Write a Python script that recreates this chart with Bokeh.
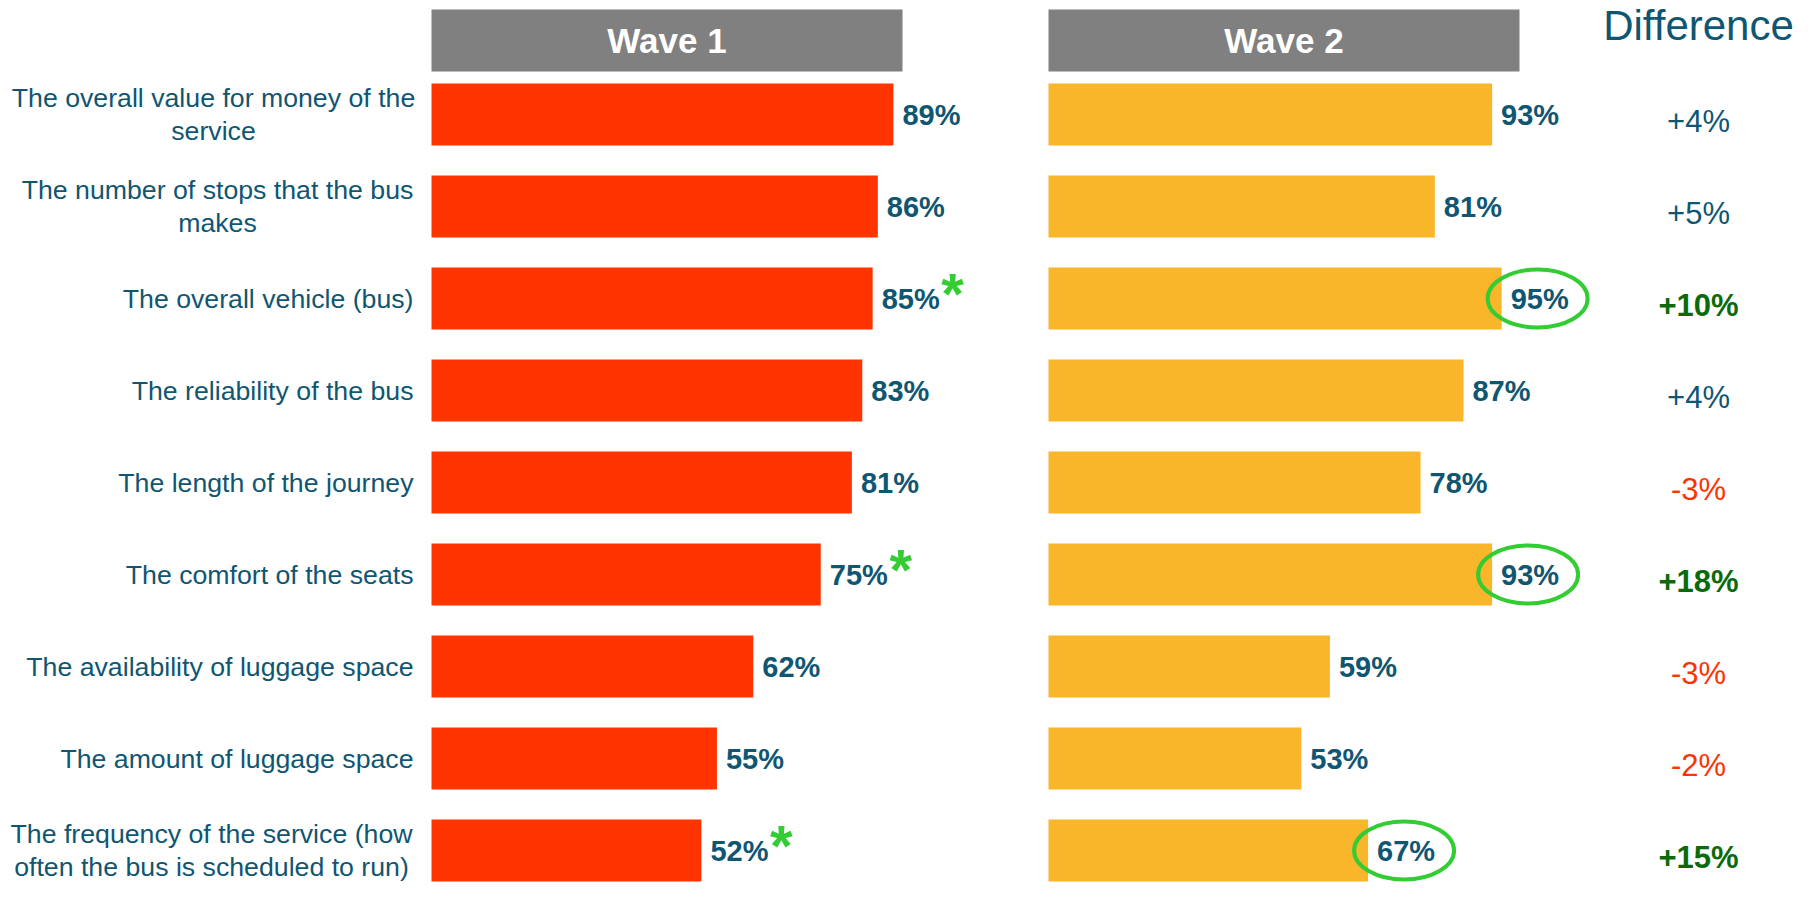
from bokeh.plotting import figure
from bokeh.models import Range1d, ColumnDataSource
from bokeh.core.properties import value
from bokeh.embed import file_html
from bokeh.resources import INLINE

# ---------------- data ----------------
categories = [
    "The overall value for money of the\nservice",
    "The number of stops that the bus\nmakes",
    "The overall vehicle (bus)",
    "The reliability of the bus",
    "The length of the journey",
    "The comfort of the seats",
    "The availability of luggage space",
    "The amount of luggage space",
    "The frequency of the service (how\noften the bus is scheduled to run)",
]
wave1 = [89, 86, 85, 83, 81, 75, 62, 55, 52]
wave2 = [93, 81, 95, 87, 78, 93, 59, 53, 67]
difference = [4, 5, 10, 4, -3, 18, -3, -2, 15]
significant = [False, False, True, False, False, True, False, False, True]
series_names = ["Wave 1", "Wave 2"]
diff_title = "Difference"

# ---------------- layout / style ----------------
W, H = 1800, 883
ROW0_PX, ROW_STEP, BAR_PX = 114, 92, 62
W1_ORIGIN, W1_PX = 431, 5.19
W2_ORIGIN, W2_PX = 1048, 4.77
HEADER_W, HEADER_Y, HEADER_H = 471, 40, 62
LABEL_RIGHT = 413
WRAP_CENTER = {0: 213, 1: 217, 8: 211}
DIFF_X, DIFF_TITLE_Y = 1698, 25
FONT = value("Liberation Sans")
TEAL = "#0f5672"
RED = "#ff3300"
YELLOW = "#f9b62b"
GREY = "#808080"
GREEN = "#33cc33"
DKGREEN = "#0b6a0b"


def rowunit(px):
    return (px - ROW0_PX) / ROW_STEP


p = figure(
    width=W, height=H,
    x_range=Range1d(0, W),
    y_range=Range1d(rowunit(H), rowunit(0)),
    output_backend="svg", toolbar_location=None,
    x_axis_location=None, y_axis_location=None,
    min_border=0, outline_line_color=None,
    background_fill_color="white", border_fill_color="white",
)
p.grid.grid_line_color = None
p.extra_x_ranges = {
    "w1": Range1d(-W1_ORIGIN / W1_PX, (W - W1_ORIGIN) / W1_PX),
    "w2": Range1d(-W2_ORIGIN / W2_PX, (W - W2_ORIGIN) / W2_PX),
}

rows = list(range(len(categories)))
src = ColumnDataSource(dict(
    row=rows, w1=wave1, w2=wave2,
    l1=[f"{v}%" for v in wave1], l2=[f"{v}%" for v in wave2],
))
bar_h = BAR_PX / ROW_STEP

# headers
hx = [W1_ORIGIN, W2_ORIGIN]
p.quad(left=hx, right=[x + HEADER_W for x in hx],
       top=[rowunit(HEADER_Y - HEADER_H / 2)] * 2,
       bottom=[rowunit(HEADER_Y + HEADER_H / 2)] * 2,
       fill_color=GREY, line_color=None)
p.text(x=[x + HEADER_W / 2 for x in hx], y=[rowunit(HEADER_Y)] * 2, text=series_names,
       text_align="center", text_baseline="middle", text_font=FONT,
       text_font_style="bold", text_font_size="35px", text_color="white")
p.text(x=[DIFF_X], y=[rowunit(DIFF_TITLE_Y)], text=[diff_title],
       text_align="center", text_baseline="middle", text_font=FONT,
       text_font_size="42px", text_color=TEAL)

# bars
p.hbar(y="row", left=0, right="w1", height=bar_h, fill_color=RED, line_color=None,
       x_range_name="w1", source=src)
p.hbar(y="row", left=0, right="w2", height=bar_h, fill_color=YELLOW, line_color=None,
       x_range_name="w2", source=src)

sig_rows = [r for r in rows if significant[r]]
# circles around wave 2 values
p.ellipse(x=[wave2[r] + 36 / W2_PX for r in sig_rows], y=sig_rows,
          width=100, height=58, width_units="screen", height_units="screen",
          fill_color=None, line_color=GREEN, line_width=4, x_range_name="w2")

# value labels
for col, lab in (("w1", "l1"), ("w2", "l2")):
    p.text(x=col, y="row", text=lab, source=src, x_range_name=col, x_offset=9,
           text_align="left", text_baseline="middle", text_font=FONT,
           text_font_style="bold", text_font_size="29px", text_color=TEAL)

# asterisks next to wave 1 values
p.text(x=[wave1[r] for r in sig_rows], y=sig_rows, text=["*"] * len(sig_rows),
       x_range_name="w1", x_offset=80, y_offset=-5,
       text_align="center", text_baseline="alphabetic", text_font=FONT,
       text_font_style="bold", text_font_size="58px", text_color=GREEN)

# category labels
single = [r for r in rows if "\n" not in categories[r]]
wrapped = [r for r in rows if "\n" in categories[r]]
p.text(x=[LABEL_RIGHT] * len(single), y=single, text=[categories[r] for r in single],
       text_align="right", text_baseline="middle", text_font=FONT,
       text_font_size="26.7px", text_color=TEAL)
p.text(x=[WRAP_CENTER[r] for r in wrapped], y=wrapped, text=[categories[r] for r in wrapped],
       text_align="center", text_baseline="middle", text_font=FONT,
       text_font_size="26.7px", text_color=TEAL, text_line_height=1.1)


# difference column
def fmt(d):
    return f"+{d}%" if d > 0 else f"{d}%"


ns = [r for r in rows if not significant[r]]
p.text(x=[DIFF_X] * len(ns), y=ns, text=[fmt(difference[r]) for r in ns],
       text_color=[TEAL if difference[r] > 0 else RED for r in ns],
       y_offset=7, text_align="center", text_baseline="middle", text_font=FONT,
       text_font_size="31px")
p.text(x=[DIFF_X] * len(sig_rows), y=sig_rows, text=[fmt(difference[r]) for r in sig_rows],
       text_color=DKGREEN, y_offset=7, text_align="center", text_baseline="middle",
       text_font=FONT, text_font_style="bold", text_font_size="31px")

open("out.html", "w").write(file_html(p, INLINE))
